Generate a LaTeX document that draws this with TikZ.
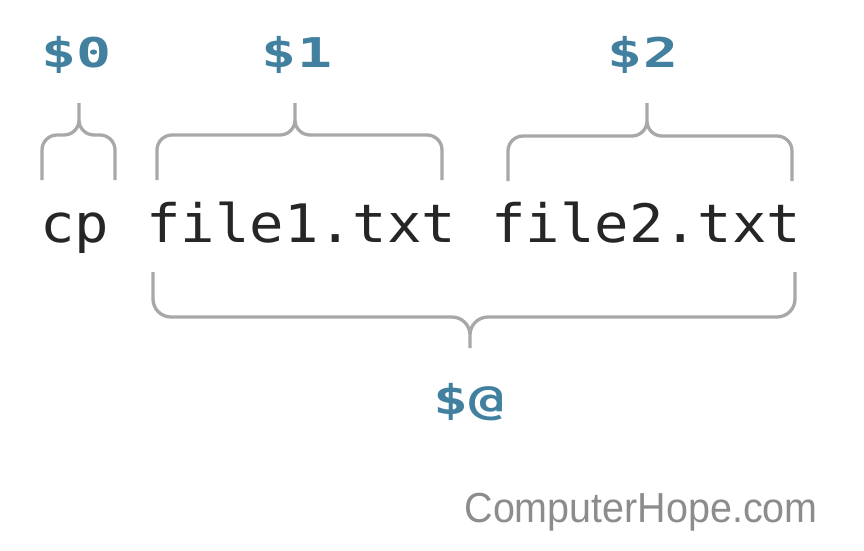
\documentclass[tikz,border=0pt]{standalone}
\usepackage{fontspec}
\usepackage{xcolor}
\newfontfamily\codefont[FakeStretch=1.08]{DejaVu Sans Mono}
\newfontfamily\varfont[FakeStretch=1.42]{DejaVu Sans Mono}
\newfontfamily\sitefont[FakeStretch=0.94]{Liberation Sans}
\definecolor{cmdtext}{HTML}{262626}
\definecolor{vartext}{HTML}{42809F}
\definecolor{bracegray}{HTML}{A8A8A8}
\definecolor{sitegray}{HTML}{8C8C8C}
\tikzset{
  argword/.style={anchor=base west, inner sep=0pt, text=cmdtext,
                  font=\codefont\fontsize{53}{60}\selectfont},
  varlabel/.style={anchor=base, inner sep=0pt, text=vartext,
                   font=\varfont\bfseries\fontsize{41}{48}\selectfont},
  bracepath/.style={draw=bracegray, line width=3.3pt, rounded corners=15pt},
}

\begin{document}
\begin{tikzpicture}[x=1pt, y=-1pt]
  \useasboundingbox (0,0) rectangle (864,550);

  %% === Command line ===
  \node[argword] (cmd)    at (40,242)  {cp};
  \node[argword] (argone) at (146,242) {file1.txt};
  \node[argword] (argtwo) at (491,242) {file2.txt};

  %% === Variable labels ===
  \node[varlabel] (vzero) at (77,67)   {\$0};
  \node[varlabel] (vone)  at (297,67)  {\$1};
  \node[varlabel] (vtwo)  at (643,67)  {\$2};
  \node[varlabel] (vall)  at (469,414) {\$@};

  %% === Braces above ===
  \draw[bracepath] (42,180) |- (79,135) -- (79,103)
                   (115,180) |- (79,135) -- (79,103);
  \draw[bracepath] (157,180) |- (295,135) -- (295,103)
                   (442,180) |- (295,135) -- (295,103);
  \draw[bracepath] (508,181) |- (647,136) -- (647,103)
                   (792,181) |- (647,136) -- (647,103);

  %% === Brace below ===
  \draw[bracepath, rounded corners=18pt] (153,272) |- (470,317) -- (470,348)
                   (795,272) |- (470,317) -- (470,348);

  %% Footer
  \node[anchor=base east, inner sep=0pt, text=sitegray,
        font=\sitefont\fontsize{42}{48}\selectfont] (site) at (818,522)
        {ComputerHope.com};
\end{tikzpicture}
\end{document}
